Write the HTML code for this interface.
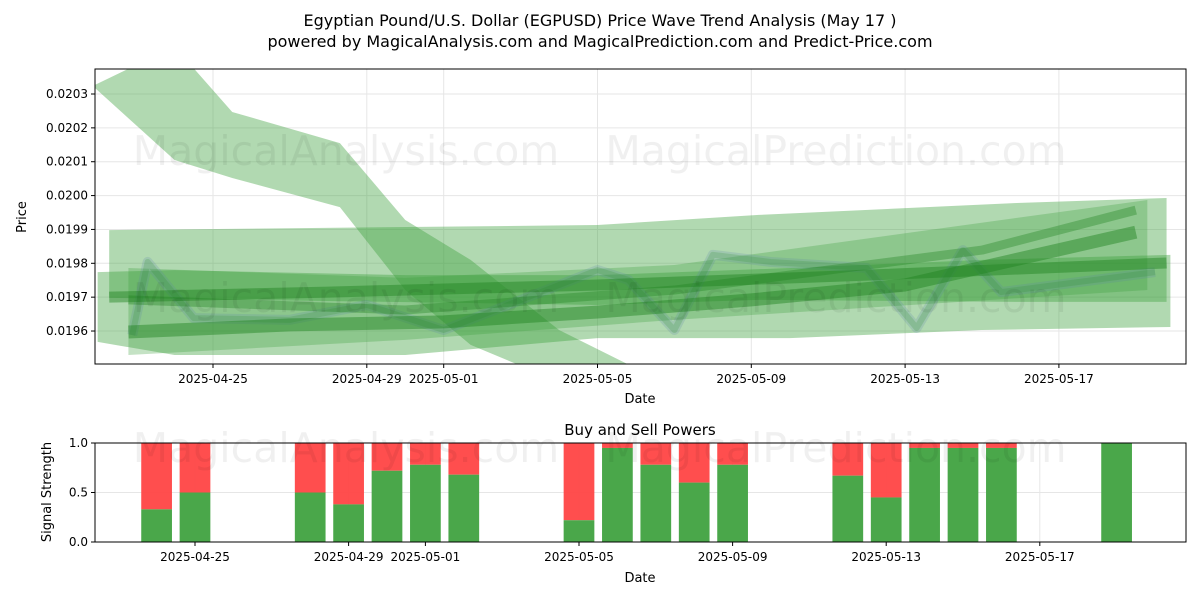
<!DOCTYPE html>
<html><head><meta charset="utf-8"><style>
body{margin:0;background:#fff;font-family:"Liberation Sans","DejaVu Sans",sans-serif;}
svg text{font-family:"DejaVu Sans","Liberation Sans",sans-serif;}
</style></head><body>
<svg id="chart" width="1200" height="600" xmlns="http://www.w3.org/2000/svg">
<rect width="1200" height="600" fill="#fff"/>
<text x="600" y="26" text-anchor="middle" font-size="16">Egyptian Pound/U.S. Dollar (EGPUSD) Price Wave Trend Analysis (May 17 )</text>
<text x="600" y="47" text-anchor="middle" font-size="16">powered by MagicalAnalysis.com and MagicalPrediction.com and Predict-Price.com</text>
<defs>
<clipPath id="topclip"><rect x="95" y="69" width="1091" height="295"/></clipPath>
<clipPath id="botclip"><rect x="95" y="443" width="1091" height="99"/></clipPath>
</defs>
<g id="topg"></g>
<g id="botg"></g>
</svg>
<script>
// ---- price wave data (days relative to 2025-04-25) ----
const topTickDays = [0,4,6,10,14,18,22];
const topTickLabels = ["2025-04-25","2025-04-29","2025-05-01","2025-05-05","2025-05-09","2025-05-13","2025-05-17"];
const priceTicks = [0.0196,0.0197,0.0198,0.0199,0.0200,0.0201,0.0202,0.0203];
const priceTickLabels = ["0.0196","0.0197","0.0198","0.0199","0.0200","0.0201","0.0202","0.0203"];

const bandADays = [-3.07,-1,0.5,3.3,5,6.7,9,11];
const bandAUpper = [0.020327,0.020440,0.020247,0.020155,0.019928,0.019810,0.019603,0.019490];
const bandALower = [0.020318,0.020105,0.020052,0.019966,0.019721,0.019559,0.019450,0.019400];

const bandB1Days = [-2.7,10,14.2,20.9,24.8];
const bandB1Upper = [0.019898,0.019913,0.019943,0.019978,0.019993];
const bandB1Lower = [0.019698,0.019677,0.019692,0.019686,0.019686];

const bandB2Days = [-3,-1,5,10,15,20,24.9];
const bandB2Upper = [0.019774,0.019780,0.019765,0.019765,0.019786,0.019810,0.019825];
const bandB2Lower = [0.019568,0.019529,0.019529,0.019579,0.019579,0.019603,0.019612];

const bandB3Days = [-2.2,5,12,24.3];
const bandB3Upper = [0.019786,0.019757,0.019795,0.019987];
const bandB3Lower = [0.019529,0.019574,0.019633,0.019721];

const lineD1Days = [-2.2,2,6,10,14,18,24];
const lineD1Mid = [0.019597,0.019618,0.019627,0.019656,0.019692,0.019736,0.019892];
const lineD2Days = [-2.7,3,10,17,24.8];
const lineD2Mid = [0.019700,0.019715,0.019736,0.019765,0.019801];
const lineD4Days = [-2.2,5,12,20,24];
const lineD4Mid = [0.019692,0.019662,0.019721,0.019839,0.019957];
const waveDays = [-2.1,-1.7,-0.5,2,4,6,10,10.8,12,13,14.5,17,18.3,19.5,20.5,24.5];
const waveMid = [0.019588,0.019804,0.019638,0.019633,0.019677,0.019603,0.019780,0.019751,0.019603,0.019825,0.019804,0.019786,0.019609,0.019839,0.019715,0.019774];

// ---- buy/sell data (days relative to 2025-04-25) ----
const barDays = [-1,0,3,4,5,6,7,10,11,12,13,14,17,18,19,20,21,24];
const buyValues = [0.33,0.5,0.5,0.38,0.72,0.78,0.68,0.22,0.95,0.78,0.6,0.78,0.67,0.45,0.95,0.95,0.95,1.0];
const signalTicks = [0,0.5,1.0];
const signalTickLabels = ["0.0","0.5","1.0"];

const NS="http://www.w3.org/2000/svg";
function mk(tag,attrs,parent){const e=document.createElementNS(NS,tag);for(const k in attrs)e.setAttribute(k,attrs[k]);parent.appendChild(e);return e;}
const xTop=d=>213+38.45*d;
const yTop=p=>94+(0.0203-p)/0.0001*33.86;
const xBot=d=>195+38.4*d;
const yBot=v=>542-99*v;

const topG=document.getElementById('topg');
const botG=document.getElementById('botg');
const svgRoot=document.getElementById('chart');

// grid
topTickDays.forEach((d,i)=>{
  const l=mk('line',{x1:xTop(d),x2:xTop(d),y1:69,y2:364,stroke:'#e6e6e6','stroke-width':1},topG);
  
  
});
priceTicks.forEach(p=>{
  const l=mk('line',{x1:95,x2:1186,y1:yTop(p),y2:yTop(p),stroke:'#e6e6e6','stroke-width':1},topG);
  
  
});

// watermarks
[[346,165,'MagicalAnalysis.com'],[836,165,'MagicalPrediction.com'],[346,312,'MagicalAnalysis.com'],[836,312,'MagicalPrediction.com'],[346,462,'MagicalAnalysis.com'],[836,462,'MagicalPrediction.com']].forEach(w=>{
  const t=mk('text',{x:w[0],y:w[1],'text-anchor':'middle','font-size':41,fill:'#000','fill-opacity':0.06},svgRoot);
  t.textContent=w[2];
  
  
});

const g=mk('g',{'clip-path':'url(#topclip)'},topG);
function band(days,up,lo,fill,name){
  let pts=days.map((d,i)=>xTop(d)+','+yTop(up[i]));
  pts=pts.concat(days.slice().reverse().map((d,i)=>xTop(d)+','+yTop(lo[days.length-1-i])));
  const p=mk('polygon',{points:pts.join(' '),fill:fill},g);
  
  
}
function line(days,mid,w,stroke,name){
  const p=mk('polyline',{points:days.map((d,i)=>xTop(d)+','+yTop(mid[i])).join(' '),fill:'none',stroke:stroke,'stroke-width':w,'stroke-linejoin':'round'},g);
  
  
}
const lg='rgba(60,160,60,0.4)';
band(bandADays,bandAUpper,bandALower,lg,'wave-band-descending');
band(bandB1Days,bandB1Upper,bandB1Lower,lg,'wave-band-upper');
band(bandB2Days,bandB2Upper,bandB2Lower,lg,'wave-band-lower');
band(bandB3Days,bandB3Upper,bandB3Lower,'rgba(60,160,60,0.3)','wave-band-mid');
line(waveDays,waveMid,10,'rgba(90,130,170,0.2)','wave-line-blue');
line(waveDays,waveMid,6,'rgba(40,140,40,0.2)','wave-line-green');
line(lineD1Days,lineD1Mid,13,'rgba(30,130,30,0.45)','trend-line-1');
line(lineD2Days,lineD2Mid,11,'rgba(30,130,30,0.45)','trend-line-2');
line(lineD4Days,lineD4Mid,9,'rgba(30,130,30,0.35)','trend-line-3');

// top axes frame and ticks
mk('rect',{x:95,y:69,width:1091,height:295,fill:'none',stroke:'#000','stroke-width':1},topG);
topTickDays.forEach((d,i)=>{
  mk('line',{x1:xTop(d),x2:xTop(d),y1:364,y2:368,stroke:'#000'},topG);
  const t=mk('text',{x:xTop(d),y:383,'text-anchor':'middle','font-size':12},topG);
  t.textContent=topTickLabels[i];
  
  
});
priceTicks.forEach((p,i)=>{
  mk('line',{x1:91,x2:95,y1:yTop(p),y2:yTop(p),stroke:'#000'},topG);
  const t=mk('text',{x:88,y:yTop(p)+4,'text-anchor':'end','font-size':12},topG);
  t.textContent=priceTickLabels[i];
  
  
});
let t=mk('text',{x:640,y:403,'text-anchor':'middle','font-size':13},topG);t.textContent='Date';


t=mk('text',{x:26,y:217,'text-anchor':'middle','font-size':13,transform:'rotate(-90 26 217)'},topG);t.textContent='Price';



// bottom chart
t=mk('text',{x:640,y:435,'text-anchor':'middle','font-size':15},botG);t.textContent='Buy and Sell Powers';


topTickDays.forEach(d=>{
  const l=mk('line',{x1:xBot(d),x2:xBot(d),y1:443,y2:542,stroke:'#e6e6e6'},botG);
  
  
});
signalTicks.forEach(v=>{
  const l=mk('line',{x1:95,x2:1186,y1:yBot(v),y2:yBot(v),stroke:'#e6e6e6'},botG);
  
  
});
const bg=mk('g',{'clip-path':'url(#botclip)'},botG);
const bw=0.8*38.4;
barDays.forEach((d,i)=>{
  const x=xBot(d)-bw/2;
  const s=mk('rect',{x:x,y:yBot(1),width:bw,height:yBot(buyValues[i])-yBot(1),fill:'#ff4444','fill-opacity':0.95},bg);
  
  
  const b=mk('rect',{x:x,y:yBot(buyValues[i]),width:bw,height:yBot(0)-yBot(buyValues[i]),fill:'#4aa74a'},bg);
  
  
});
mk('rect',{x:95,y:443,width:1091,height:99,fill:'none',stroke:'#000'},botG);
topTickDays.forEach((d,i)=>{
  mk('line',{x1:xBot(d),x2:xBot(d),y1:542,y2:546,stroke:'#000'},botG);
  const t=mk('text',{x:xBot(d),y:561,'text-anchor':'middle','font-size':12},botG);
  t.textContent=topTickLabels[i];
  
  
});
signalTicks.forEach((v,i)=>{
  mk('line',{x1:91,x2:95,y1:yBot(v),y2:yBot(v),stroke:'#000'},botG);
  const t=mk('text',{x:88,y:yBot(v)+4,'text-anchor':'end','font-size':12},botG);
  t.textContent=signalTickLabels[i];
  
  
});
t=mk('text',{x:640,y:582,'text-anchor':'middle','font-size':13},botG);t.textContent='Date';


t=mk('text',{x:51,y:492,'text-anchor':'middle','font-size':13,transform:'rotate(-90 51 492)'},botG);t.textContent='Signal Strength';


</script>
</body></html>
